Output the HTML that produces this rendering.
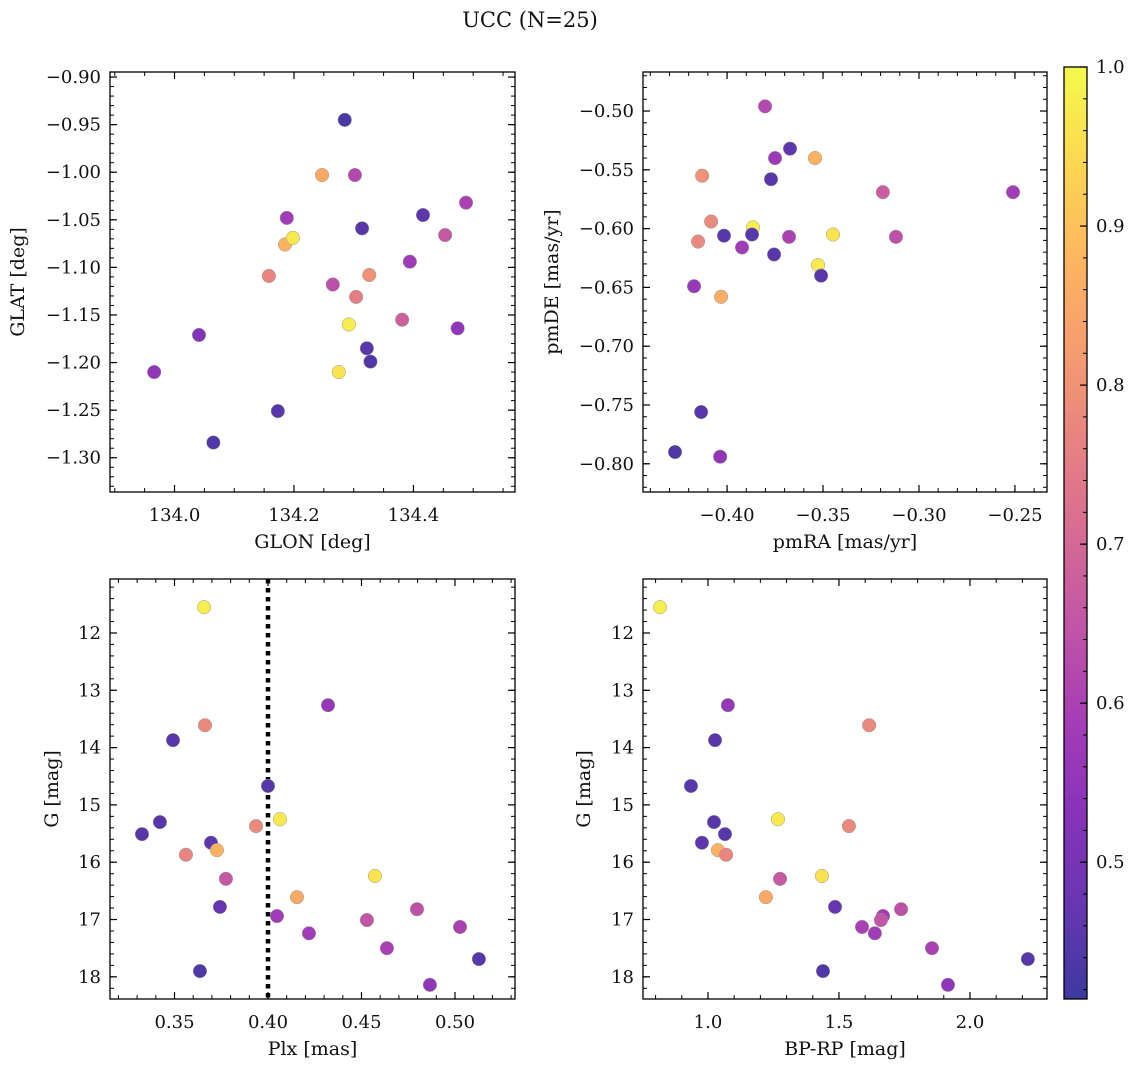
<!DOCTYPE html>
<html><head><meta charset="utf-8"><style>
html,body{margin:0;padding:0;background:#fff}
svg text{font-family:"DejaVu Serif","Liberation Serif",serif;fill:#111}
</style></head><body>
<svg id="fig" width="1136" height="1067" xmlns="http://www.w3.org/2000/svg">
<text x="530" y="27" font-size="21" text-anchor="middle">UCC (N=25)</text>
</svg>
<script>
// Panel 1: GLON / GLAT
const p1Glon=[134.285,134.247,134.302,134.188,134.185,134.198,134.314,134.416,134.488,134.453,134.394,134.158,134.326,134.265,134.304,134.381,134.474,134.292,134.041,134.322,134.328,133.966,134.275,134.173,134.065];
const p1Glat=[-0.945,-1.003,-1.003,-1.048,-1.076,-1.069,-1.059,-1.045,-1.032,-1.066,-1.094,-1.109,-1.108,-1.118,-1.131,-1.155,-1.164,-1.160,-1.171,-1.185,-1.199,-1.210,-1.210,-1.251,-1.284];
const p1Prob=[0.43,0.85,0.62,0.58,0.87,0.97,0.45,0.46,0.6,0.66,0.58,0.77,0.8,0.64,0.75,0.68,0.55,0.98,0.52,0.45,0.44,0.55,0.96,0.45,0.44];
// Panel 2: pmRA / pmDE
const p2PmRA=[-0.3802,-0.375,-0.3672,-0.3771,-0.413,-0.3542,-0.3188,-0.251,-0.4083,-0.3865,-0.4016,-0.387,-0.3677,-0.3448,-0.312,-0.4151,-0.3922,-0.3755,-0.3526,-0.351,-0.4172,-0.4031,-0.4135,-0.4271,-0.4036];
const p2PmDE=[-0.496,-0.540,-0.532,-0.558,-0.555,-0.540,-0.569,-0.569,-0.594,-0.599,-0.606,-0.605,-0.607,-0.605,-0.607,-0.611,-0.616,-0.622,-0.631,-0.640,-0.649,-0.658,-0.756,-0.790,-0.794];
const p2Prob=[0.62,0.57,0.46,0.45,0.8,0.87,0.67,0.58,0.78,0.98,0.45,0.45,0.6,0.96,0.64,0.78,0.58,0.45,0.97,0.45,0.56,0.86,0.45,0.44,0.55];
// Panels 3/4: Plx, BP-RP, G
const plx=[0.3658,0.3663,0.4321,0.3492,0.400,0.4064,0.3326,0.3422,0.3936,0.3695,0.3727,0.3561,0.3775,0.4572,0.4155,0.3743,0.4048,0.4797,0.4529,0.5027,0.4219,0.4636,0.5128,0.3636,0.4866];
const gmag=[11.55,13.61,13.26,13.87,14.67,15.25,15.51,15.30,15.37,15.66,15.79,15.87,16.29,16.24,16.61,16.78,16.94,16.82,17.01,17.13,17.24,17.50,17.69,17.90,18.14];
const bprp=[0.817,1.615,1.076,1.027,0.935,1.267,1.065,1.023,1.538,0.977,1.038,1.069,1.275,1.435,1.221,1.485,1.668,1.737,1.660,1.588,1.637,1.855,2.221,1.439,1.916];
const p34Prob=[0.98,0.78,0.56,0.45,0.45,0.97,0.45,0.45,0.78,0.46,0.87,0.77,0.66,0.96,0.85,0.47,0.58,0.64,0.65,0.6,0.58,0.6,0.45,0.44,0.55];
const plxCut=0.40;
const cbTicks=[0.5,0.6,0.7,0.8,0.9,1.0];
const vmin=0.414,vmax=1.0;

const NS="http://www.w3.org/2000/svg";
const svg=document.getElementById('fig');
function mk(t,a,p){const e=document.createElementNS(NS,t);for(const k in a)e.setAttribute(k,a[k]);(p||svg).appendChild(e);return e;}
const stops=[[13,8,135],[65,4,157],[106,0,168],[143,13,164],[177,42,144],[204,71,120],[225,100,98],[242,132,75],[252,166,54],[252,206,37],[240,249,33]];
function plasma(t){t=Math.max(0,Math.min(1,t));const s=t*10,i=Math.min(9,Math.floor(s)),f=s-i;const a=stops[i],b=stops[i+1];
 const c=a.map((v,k)=>Math.round((v+(b[k]-v)*f)*0.8+255*0.2));return `rgb(${c[0]},${c[1]},${c[2]})`;}
function fmt(v,d){let s=v.toFixed(d);return s.replace('-','\u2212');}
const TF=18, LF=19;
function panel(o){
 const g=mk('g',{});
 
 
 const sx=v=>o.x0+(v-o.xmin)/(o.xmax-o.xmin)*(o.x1-o.x0);
 const sy=o.inv?v=>o.y0+(v-o.ymin)/(o.ymax-o.ymin)*(o.y1-o.y0):v=>o.y1-(v-o.ymin)/(o.ymax-o.ymin)*(o.y1-o.y0);
 function ticks(min,max,step,cb){const s=Math.ceil(min/step-1e-6);for(let k=s;k*step<=max+1e-9;k++)cb(k*step);}
 ticks(o.xmin,o.xmax,o.xminor,v=>{const x=sx(v);mk('line',{x1:x,x2:x,y1:o.y1,y2:o.y1-4,stroke:'#000','stroke-width':1},g);mk('line',{x1:x,x2:x,y1:o.y0,y2:o.y0+4,stroke:'#000','stroke-width':1},g);});
 ticks(o.ymin,o.ymax,o.yminor,v=>{const y=sy(v);mk('line',{x1:o.x0,x2:o.x0+4,y1:y,y2:y,stroke:'#000','stroke-width':1},g);mk('line',{x1:o.x1,x2:o.x1-4,y1:y,y2:y,stroke:'#000','stroke-width':1},g);});
 ticks(o.xmin,o.xmax,o.xmajor,v=>{const x=sx(v);mk('line',{x1:x,x2:x,y1:o.y1,y2:o.y1-7,stroke:'#000','stroke-width':1.2},g);mk('line',{x1:x,x2:x,y1:o.y0,y2:o.y0+7,stroke:'#000','stroke-width':1.2},g);
  const t=mk('text',{x:x,y:o.y1+29,'font-size':TF,'text-anchor':'middle'},g);t.textContent=fmt(v,o.xd);
  });
 ticks(o.ymin,o.ymax,o.ymajor,v=>{const y=sy(v);mk('line',{x1:o.x0,x2:o.x0+7,y1:y,y2:y,stroke:'#000','stroke-width':1.2},g);mk('line',{x1:o.x1,x2:o.x1-7,y1:y,y2:y,stroke:'#000','stroke-width':1.2},g);
  const t=mk('text',{x:o.x0-9,y:y+6,'font-size':TF,'text-anchor':'end'},g);t.textContent=fmt(v,o.yd);
  });
 if(o.vline!==undefined){const x=sx(o.vline);const l=mk('line',{x1:x,x2:x,y1:o.y0,y2:o.y1,stroke:'#000','stroke-width':4.5,'stroke-dasharray':'4.5,4.5'},g);
  }
 for(let i=0;i<o.xs.length;i++){const c=mk('circle',{cx:sx(o.xs[i]),cy:sy(o.ys[i]),r:6.8,fill:plasma((o.c[i]-vmin)/(vmax-vmin)),stroke:'#999','stroke-width':0.5},g);
  }
 const r=mk('rect',{x:o.x0,y:o.y0,width:o.x1-o.x0,height:o.y1-o.y0,fill:'none',stroke:'#000','stroke-width':1.3},g);
 
 const xl=mk('text',{x:(o.x0+o.x1)/2,y:o.y1+56,'font-size':LF,'text-anchor':'middle'},g);xl.textContent=o.xlab;
 
 const yx=o.ylx,yy=(o.y0+o.y1)/2;const yl=mk('text',{x:yx,y:yy,'font-size':LF,'text-anchor':'middle',transform:`rotate(-90 ${yx} ${yy})`},g);yl.textContent=o.ylab;
 
}
panel({name:'glon-glat-panel',x0:110,x1:515,y0:72,y1:492,xmin:133.892,xmax:134.570,ymin:-1.336,ymax:-0.8947,xmajor:0.2,xminor:0.05,ymajor:0.05,yminor:0.01,xd:1,yd:2,xs:p1Glon,ys:p1Glat,c:p1Prob,xlab:'GLON [deg]',ylab:'GLAT [deg]',ylx:24});
panel({name:'pm-panel',x0:643,x1:1047,y0:72,y1:492,xmin:-0.4438,xmax:-0.2333,ymin:-0.824,ymax:-0.4668,xmajor:0.05,xminor:0.01,ymajor:0.05,yminor:0.01,xd:2,yd:2,xs:p2PmRA,ys:p2PmDE,c:p2Prob,xlab:'pmRA [mas/yr]',ylab:'pmDE [mas/yr]',ylx:558});
panel({name:'plx-g-panel',x0:110,x1:515,y0:579,y1:999,xmin:0.3155,xmax:0.5321,ymin:11.058,ymax:18.387,inv:true,xmajor:0.05,xminor:0.01,ymajor:1,yminor:0.2,xd:2,yd:0,xs:plx,ys:gmag,c:p34Prob,xlab:'Plx [mas]',ylab:'G [mag]',ylx:58,vline:plxCut});
panel({name:'bprp-g-panel',x0:643,x1:1047,y0:579,y1:999,xmin:0.752,xmax:2.294,ymin:11.058,ymax:18.387,inv:true,xmajor:0.5,xminor:0.1,ymajor:1,yminor:0.2,xd:1,yd:0,xs:bprp,ys:gmag,c:p34Prob,xlab:'BP-RP [mag]',ylab:'G [mag]',ylx:590});

const cb=mk('g',{});


const defs=mk('defs',{});const lg=mk('linearGradient',{id:'cbg',x1:0,y1:1,x2:0,y2:0},defs);
for(let i=0;i<=20;i++)mk('stop',{offset:i/20,'stop-color':plasma(i/20)},lg);
const cx0=1064,cx1=1087,cy0=67,cy1=999;
mk('rect',{x:cx0,y:cy0,width:cx1-cx0,height:cy1-cy0,fill:'url(#cbg)',stroke:'#000','stroke-width':1.3},cb);
const cby=v=>cy1-(v-vmin)/(vmax-vmin)*(cy1-cy0);
for(let v=0.42;v<=1.0001;v+=0.02){const y=cby(v);mk('line',{x1:cx1,x2:cx1-4,y1:y,y2:y,stroke:'#000','stroke-width':1},cb);}
cbTicks.forEach(v=>{const y=cby(v);mk('line',{x1:cx1,x2:cx1-7,y1:y,y2:y,stroke:'#000','stroke-width':1.2},cb);
 const t=mk('text',{x:cx1+9,y:y+6,'font-size':TF},cb);t.textContent=v.toFixed(1);
 });
</script>
</body></html>
